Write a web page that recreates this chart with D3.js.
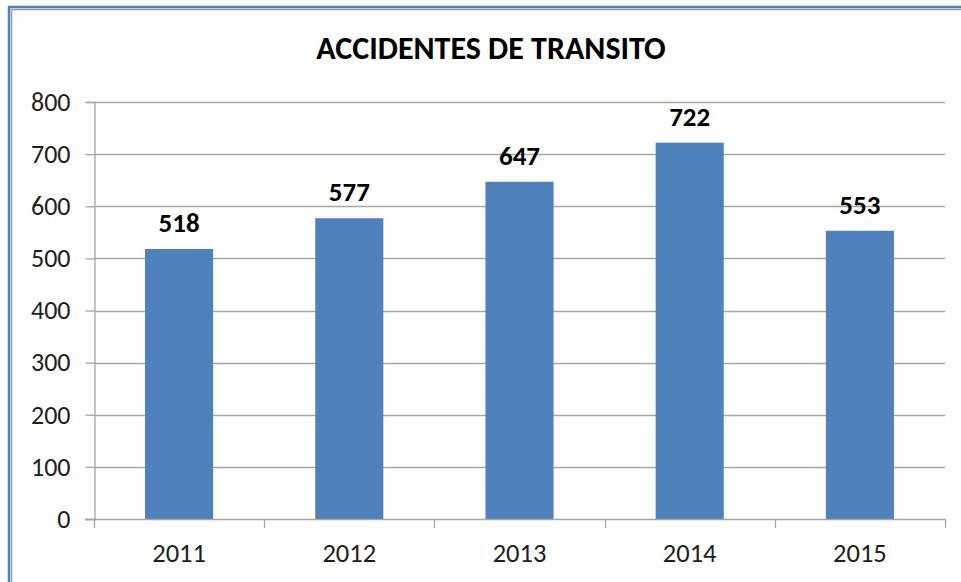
<!DOCTYPE html>
<html>
<head>
<meta charset="utf-8">
<script src="https://cdn.jsdelivr.net/npm/d3@7"></script>
<style>
  body { margin: 0; background: #fff; }
  svg { display: block; }
</style>
</head>
<body>
<svg id="chart"></svg>
<script>
// data
const years = ["2011", "2012", "2013", "2014", "2015"];
const accidents = [518, 577, 647, 722, 553];
const yTicks = [0, 100, 200, 300, 400, 500, 600, 700, 800];
const chartTitle = "ACCIDENTES DE TRANSITO";

const width = 961, height = 582;
const margin = {top: 102, right: 16, bottom: 63, left: 94};
const font = "Carlito, 'Open Sans', 'Liberation Sans', sans-serif";

const svg = d3.select("#chart")
    .attr("width", width)
    .attr("height", height)
    .style("font-family", font);

// frame: blue outer line, gray inner line (right/bottom edges fall outside the shot)
svg.append("rect")
    .attr("x", 9).attr("y", 7)
    .attr("width", width + 20).attr("height", height + 20)
    .attr("fill", "none").attr("stroke", "#4f81bd").attr("stroke-width", 2.5);
svg.append("rect")
    .attr("x", 11.5).attr("y", 9.5)
    .attr("width", width + 20).attr("height", height + 20)
    .attr("fill", "none").attr("stroke", "#9a9a9a").attr("stroke-width", 1.5);

const x = d3.scaleBand()
    .domain(years)
    .range([margin.left, width - margin.right])
    .paddingInner(0.6)
    .paddingOuter(0.3);

const y = d3.scaleLinear()
    .domain([0, 800])
    .range([height - margin.bottom, margin.top]);

// title
svg.append("text")
    .attr("x", 491).attr("y", 59)
    .attr("text-anchor", "middle")
    .style("font-size", "32px")
    .style("font-weight", "bold")
    .attr("fill", "#000")
    .text(chartTitle);

// gridlines
svg.append("g")
  .selectAll("line")
  .data(yTicks.filter(d => d > 0))
  .join("line")
    .attr("x1", margin.left).attr("x2", width - margin.right)
    .attr("y1", d => Math.round(y(d)) + 0.5).attr("y2", d => Math.round(y(d)) + 0.5)
    .attr("stroke", "#a6a6a6").attr("stroke-width", 1.3);

// bars
svg.append("g")
  .selectAll("rect")
  .data(accidents)
  .join("rect")
    .attr("x", (d, i) => x(years[i]))
    .attr("y", d => y(d))
    .attr("width", x.bandwidth())
    .attr("height", d => y(0) - y(d))
    .attr("fill", "#4f81bd");

// value labels
svg.append("g")
  .selectAll("text")
  .data(accidents)
  .join("text")
    .attr("x", (d, i) => x(years[i]) + x.bandwidth() / 2)
    .attr("y", d => y(d) - 17)
    .attr("text-anchor", "middle")
    .style("font-size", "27px")
    .style("font-weight", "bold")
    .attr("fill", "#000")
    .text(d => d);

// y axis
const yAxis = svg.append("g")
    .attr("transform", `translate(${margin.left + 0.5},0)`)
    .call(d3.axisLeft(y).tickValues(yTicks).tickSize(9).tickPadding(15));
yAxis.select(".domain").attr("stroke", "#a6a6a6").attr("stroke-width", 1.3);
yAxis.selectAll(".tick line").attr("stroke", "#a6a6a6").attr("stroke-width", 1.3);
yAxis.selectAll(".tick text")
    .style("font-size", "26px")
    .style("font-family", font)
    .attr("fill", "#1e1e1e");

// x axis: baseline with tick marks at category boundaries
const xAxisG = svg.append("g");
xAxisG.append("line")
    .attr("x1", margin.left - 9).attr("x2", width - margin.right)
    .attr("y1", y(0) + 0.5).attr("y2", y(0) + 0.5)
    .attr("stroke", "#a6a6a6").attr("stroke-width", 1.3);
const bounds = d3.range(years.length + 1).map(i => margin.left + i * (width - margin.left - margin.right) / years.length);
xAxisG.selectAll("line.tk")
  .data(bounds)
  .join("line")
    .attr("class", "tk")
    .attr("x1", d => Math.round(d) + 0.5).attr("x2", d => Math.round(d) + 0.5)
    .attr("y1", y(0)).attr("y2", y(0) + 9)
    .attr("stroke", "#a6a6a6").attr("stroke-width", 1.3);
xAxisG.selectAll("text")
  .data(years)
  .join("text")
    .attr("x", d => x(d) + x.bandwidth() / 2)
    .attr("y", y(0) + 43)
    .attr("text-anchor", "middle")
    .style("font-size", "26.5px")
    .attr("fill", "#1e1e1e")
    .text(d => d);
</script>
</body>
</html>
